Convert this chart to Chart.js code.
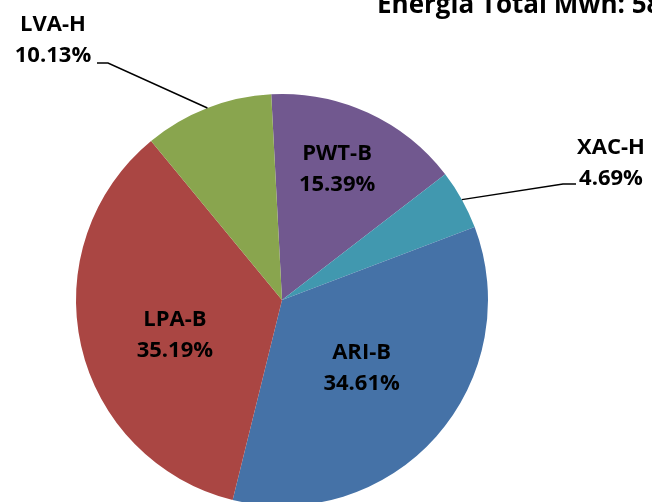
<!DOCTYPE html>
<html>
<head>
<meta charset="utf-8">
<script src="https://cdn.jsdelivr.net/npm/chart.js@4.4.0/dist/chart.umd.min.js"></script>
<style>
  html, body { margin: 0; padding: 0; background: #fff; overflow: hidden; }
</style>
</head>
<body>
<canvas id="chart" width="652" height="520"></canvas>
<script>
const categories = ['PWT-B', 'XAC-H', 'ARI-B', 'LPA-B', 'LVA-H'];
const shares = [15.39, 4.69, 34.61, 35.19, 10.13];
const sliceColors = ['#71588F', '#4198AF', '#4572A7', '#AA4643', '#89A54E'];
const titleText = 'Energía Total Mwh: 5834';

// draws the two-line labels, leader lines and the clipped title
const sliceLabels = {
  id: 'sliceLabels',
  afterDatasetsDraw(chart, args, opts) {
    const ctx = chart.ctx;
    const meta = chart.getDatasetMeta(0);
    ctx.save();
    ctx.font = 'bold 22px "Open Sans"';
    ctx.fillStyle = '#000';
    ctx.strokeStyle = '#000';
    ctx.lineWidth = 1.5;
    ctx.textAlign = 'center';
    ctx.textBaseline = 'middle';
    meta.data.forEach((arc, i) => {
      const p = arc.getProps(['x', 'y', 'startAngle', 'endAngle', 'outerRadius'], true);
      const mid = (p.startAngle + p.endAngle) / 2;
      const name = categories[i];
      const out = opts.outside[name];
      let cx, cy;
      if (out) {
        const ax = p.x + Math.cos(mid) * p.outerRadius;
        const ay = p.y + Math.sin(mid) * p.outerRadius;
        ctx.beginPath();
        ctx.moveTo(ax, ay);
        ctx.lineTo(out.elbow[0], out.elbow[1]);
        ctx.lineTo(out.end[0], out.end[1]);
        ctx.stroke();
        cx = out.text[0];
        cy = out.text[1];
      } else {
        const [frac, shift] = opts.inside[name];
        const a = mid + shift * Math.PI / 180;
        const r = p.outerRadius * frac;
        cx = p.x + Math.cos(a) * r;
        cy = p.y + Math.sin(a) * r;
      }
      ctx.fillText(name, cx, cy - 15.5);
      ctx.fillText(shares[i].toFixed(2) + '%', cx, cy + 15.5);
    });
    ctx.font = 'bold 26px "Open Sans"';
    ctx.textAlign = 'left';
    ctx.textBaseline = 'alphabetic';
    ctx.fillText(titleText, 377, 13);
    ctx.restore();
  }
};

new Chart(document.getElementById('chart').getContext('2d'), {
  type: 'pie',
  data: {
    labels: categories,
    datasets: [{
      data: shares,
      backgroundColor: sliceColors,
      borderWidth: 0,
      hoverOffset: 0
    }]
  },
  options: {
    responsive: false,
    animation: false,
    rotation: -3,
    layout: { padding: { left: 76, top: 94, right: 164, bottom: 14 } },
    plugins: {
      legend: { display: false },
      tooltip: { enabled: false },
      sliceLabels: {
        inside: { 'PWT-B': [0.69, -1.9], 'ARI-B': [0.508, -1.1], 'LPA-B': [0.547, -5.3] },
        outside: {
          'LVA-H': { text: [53, 40], elbow: [108, 63], end: [97, 63] },
          'XAC-H': { text: [611, 163], elbow: [563, 184], end: [576, 184] }
        }
      }
    }
  },
  plugins: [sliceLabels]
});
</script>
</body>
</html>
